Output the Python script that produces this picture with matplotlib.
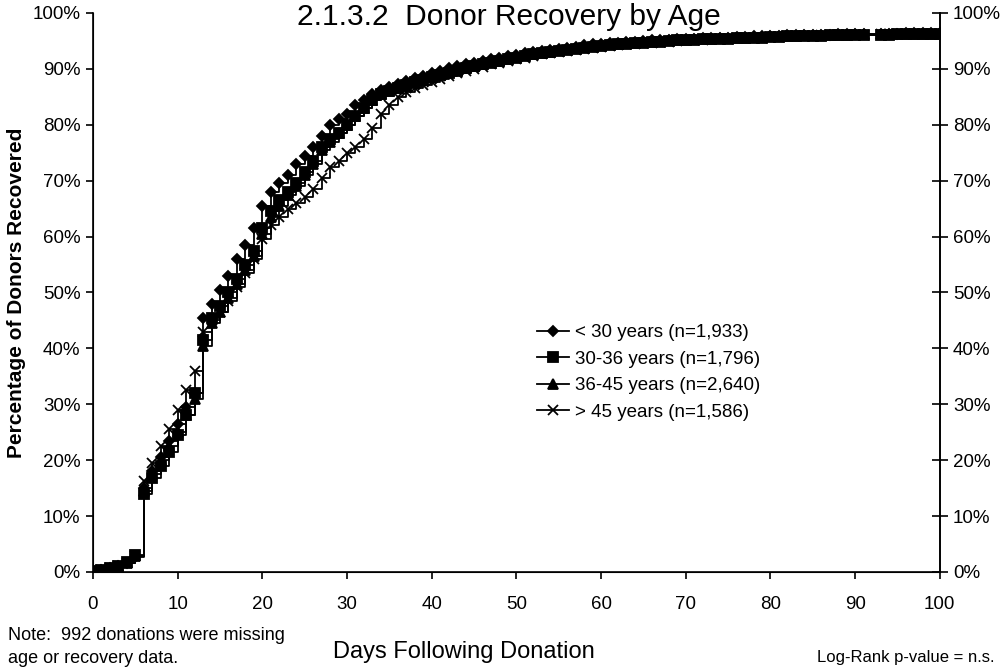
import matplotlib
matplotlib.use("Agg")
import matplotlib.pyplot as plt
from matplotlib.ticker import FuncFormatter

plt.rcParams['font.family'] = ['Liberation Sans', 'DejaVu Sans']

# days with a recorded value (no entry on day 92)
days = list(range(0, 92)) + list(range(93, 101))

under_30 = [0.2, 0.4, 0.7, 1.0, 1.6, 2.6,
            15.0, 18.0, 20.5, 23.5, 26.5, 29.5, 32.0, 45.5,
            48.0, 50.5, 53.0, 56.0, 58.5, 61.5, 65.5,
            68.0, 69.5, 71.0, 73.0, 74.5, 76.0, 78.0,
            80.0, 81.0, 82.0, 83.5, 84.5, 85.5, 86.3,
            86.8, 87.3, 87.8, 88.3, 88.8, 89.3, 89.7,
            90.1, 90.5, 90.8, 91.1, 91.4, 91.7, 92.0,
            92.3, 92.5, 92.8, 93.0, 93.2, 93.4, 93.6,
            93.8, 94.0, 94.2, 94.4, 94.5, 94.6, 94.7,
            94.8, 94.9, 95.0, 95.1, 95.2, 95.2, 95.3,
            95.4, 95.4, 95.5, 95.5, 95.6, 95.6, 95.7,
            95.7, 95.8, 95.8, 95.9, 95.9, 96.0, 96.0,
            96.0, 96.1, 96.1, 96.1, 96.2, 96.2, 96.2, 96.3,
            96.3, 96.3, 96.3, 96.4, 96.4, 96.4, 96.4, 96.4]

age_30_36 = [0.2, 0.4, 0.7, 1.1, 1.8, 3.0,
             14.0, 16.8, 19.0, 21.5, 24.5, 28.0, 32.0, 41.5,
             45.5, 47.5, 50.0, 52.5, 55.0, 57.5, 61.5,
             64.5, 66.5, 68.0, 69.5, 71.5, 73.5, 76.0,
             77.5, 78.5, 80.0, 81.5, 83.0, 84.5, 85.5,
             86.0, 86.6, 87.1, 87.6, 88.1, 88.5, 88.9,
             89.3, 89.7, 90.1, 90.5, 90.8, 91.1, 91.4,
             91.7, 92.0, 92.3, 92.6, 92.8, 93.0, 93.2,
             93.4, 93.6, 93.8, 94.0, 94.1, 94.3, 94.4,
             94.5, 94.6, 94.7, 94.8, 94.9, 95.0, 95.1,
             95.1, 95.2, 95.3, 95.3, 95.4, 95.4, 95.5,
             95.5, 95.6, 95.6, 95.7, 95.7, 95.8, 95.8,
             95.9, 95.9, 95.9, 96.0, 96.0, 96.0, 96.1, 96.1,
             96.1, 96.1, 96.2, 96.2, 96.2, 96.2, 96.2, 96.2]

age_36_45 = [0.2, 0.4, 0.7, 1.0, 1.6, 2.8,
             14.5, 17.5, 20.0, 22.5, 25.0, 28.0, 31.0, 40.5,
             44.5, 46.5, 49.0, 51.5, 54.0, 56.5, 60.5,
             63.5, 65.5, 67.5, 69.0, 71.0, 73.0, 75.5,
             77.0, 78.5, 80.0, 81.5, 83.0, 84.5, 85.5,
             86.0, 86.5, 87.0, 87.5, 88.0, 88.5, 89.0,
             89.5, 89.8, 90.2, 90.5, 90.9, 91.2, 91.5,
             91.8, 92.1, 92.4, 92.6, 92.9, 93.1, 93.3,
             93.5, 93.7, 93.9, 94.1, 94.2, 94.4, 94.5,
             94.6, 94.7, 94.8, 94.9, 95.0, 95.1, 95.2,
             95.2, 95.3, 95.4, 95.4, 95.5, 95.5, 95.6,
             95.6, 95.7, 95.7, 95.8, 95.8, 95.9, 95.9,
             96.0, 96.0, 96.0, 96.1, 96.1, 96.1, 96.2, 96.2,
             96.2, 96.2, 96.3, 96.3, 96.3, 96.3, 96.3, 96.3]

over_45 = [0.2, 0.4, 0.7, 1.0, 1.6, 2.8,
           16.2, 19.5, 22.5, 25.5, 29.0, 32.5, 36.0, 43.0,
           45.0, 46.5, 48.5, 51.0, 53.5, 56.0, 59.5,
           62.0, 63.5, 65.0, 66.0, 67.0, 68.5, 70.5,
           72.5, 73.5, 75.0, 76.0, 77.5, 79.5, 82.0,
           83.5, 85.0, 85.8, 86.5, 87.1, 87.6, 88.2,
           88.7, 89.2, 89.6, 90.0, 90.4, 90.8, 91.1,
           91.4, 91.7, 92.0, 92.3, 92.6, 92.8, 93.0,
           93.2, 93.4, 93.6, 93.8, 94.0, 94.1, 94.3,
           94.4, 94.5, 94.6, 94.7, 94.8, 94.9, 95.0,
           95.1, 95.2, 95.2, 95.3, 95.4, 95.4, 95.5,
           95.5, 95.6, 95.6, 95.7, 95.7, 95.8, 95.8,
           95.9, 95.9, 96.0, 96.0, 96.0, 96.1, 96.1, 96.1,
           96.2, 96.2, 96.2, 96.2, 96.3, 96.3, 96.3, 96.3]

series = [
    ('< 30 years (n=1,933)', under_30, 'D', 5.5),
    ('30-36 years (n=1,796)', age_30_36, 's', 6.5),
    ('36-45 years (n=2,640)', age_36_45, '^', 6.5),
    ('> 45 years (n=1,586)', over_45, 'x', 7),
]

fig = plt.figure(figsize=(10.03, 6.70), dpi=100)
ax = fig.add_axes([0.0927, 0.1463, 0.8443, 0.8343])

for label, vals, marker, ms in series:
    ax.plot(days, vals, drawstyle='steps-post', color='black', linewidth=1.3,
            marker=marker, markersize=ms, markerfacecolor='black',
            markeredgecolor='black', markeredgewidth=1.3, label=label)

ax.set_xlim(0, 100)
ax.set_ylim(0, 100)
ax.set_xticks(range(0, 101, 10))
ax.set_yticks(range(0, 101, 10))
pct = FuncFormatter(lambda v, p: f"{int(v)}%")
ax.yaxis.set_major_formatter(pct)
ax.spines['top'].set_visible(False)
for s in ax.spines.values():
    s.set_linewidth(1.2)
ax.tick_params(axis='x', direction='out', length=5, width=1.2, labelsize=13.5, pad=12)
ax.tick_params(axis='y', direction='out', length=5, width=1.2, labelsize=13.5, pad=4)

ax2 = ax.twinx()
ax2.set_ylim(0, 100)
ax2.set_yticks(range(0, 101, 10))
ax2.yaxis.set_major_formatter(pct)
ax2.spines['top'].set_visible(False)
ax2.spines['right'].set_linewidth(1.2)
ax2.tick_params(axis='y', direction='inout', length=11, width=1.2, labelsize=13.5, pad=4)

ax.set_ylabel('Percentage of Donors Recovered', fontsize=15, fontweight='bold', labelpad=5)

leg = ax.legend(loc='upper left', bbox_to_anchor=(0.516, 0.457), borderaxespad=0,
                frameon=False, fontsize=13.5, handlelength=1.7, labelspacing=0.5,
                handletextpad=0.3)

fig.text(0.507, 0.975, '2.1.3.2  Donor Recovery by Age', ha='center', va='center', fontsize=21.5)
fig.text(0.462, 0.027, 'Days Following Donation', ha='center', va='center', fontsize=17)
fig.text(0.008, 0.052, 'Note:  992 donations were missing', ha='left', va='center', fontsize=13)
fig.text(0.008, 0.017, 'age or recovery data.', ha='left', va='center', fontsize=13)
fig.text(0.992, 0.019, 'Log-Rank p-value = n.s.', ha='right', va='center', fontsize=12)

fig.savefig('out.png', dpi=100)
